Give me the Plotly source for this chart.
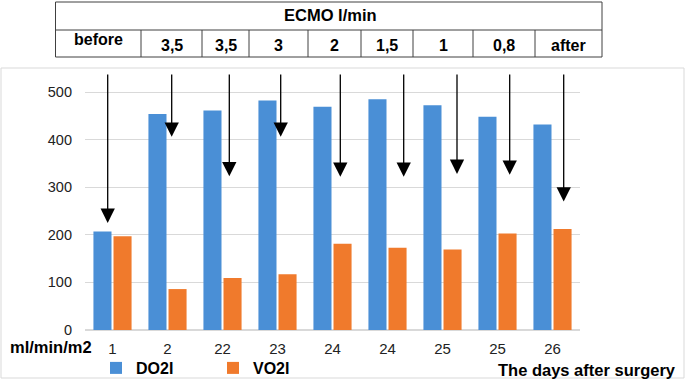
import plotly.graph_objects as go

# ---- data ----
days = ["1", "2", "22", "23", "24", "24", "25", "25", "26"]
ecmo_flow = ["before", "3,5", "3,5", "3", "2", "1,5", "1", "0,8", "after"]
do2i = [207, 454, 461, 482, 469, 485, 472, 448, 432]
vo2i = [197, 86, 109, 117, 181, 173, 169, 203, 212]
arrow_tip = [225, 406, 323, 406, 322, 322, 328, 326, 270]

W, H = 685, 379
PL, PR, PT, PB = 85, 580, 73, 330   # plot area in pixels
YMAX = 540

def px(x):
    return (x - PL) / (PR - PL)

def py(y):
    return (PB - y) / (PB - PT)

FONT = "Liberation Sans Narrow, Liberation Sans, Arial, sans-serif"
xs = list(range(len(days)))

fig = go.Figure()
fig.add_trace(go.Bar(x=xs, y=do2i, name="<b>DO2I</b>", marker=dict(color="#4a8fd6", line=dict(width=0))))
fig.add_trace(go.Bar(x=xs, y=vo2i, name="<b>VO2I</b>", marker=dict(color="#f07a2c", line=dict(width=0))))

shapes = []
# outer light frame of chart area
shapes.append(dict(type="rect", xref="paper", yref="paper", x0=px(1), x1=px(684), y0=py(378), y1=py(68),
                   line=dict(color="#d9d9d9", width=1), layer="below"))
# ECMO table
tx = [55.5, 141, 202, 249, 308, 361, 413, 473, 535, 602]
ttop, tmid, tbot = 2, 30, 57
shapes.append(dict(type="rect", xref="paper", yref="paper", x0=px(tx[0]), x1=px(tx[-1]), y0=py(tbot), y1=py(ttop),
                   line=dict(color="#404040", width=1)))
shapes.append(dict(type="line", xref="paper", yref="paper", x0=px(tx[0]), x1=px(tx[-1]), y0=py(tmid), y1=py(tmid),
                   line=dict(color="#404040", width=1)))
for xv in tx[1:-1]:
    shapes.append(dict(type="line", xref="paper", yref="paper", x0=px(xv), x1=px(xv), y0=py(tbot), y1=py(tmid),
                       line=dict(color="#404040", width=1)))

def label(text, x, y, size=16):
    return dict(text="<b>%s</b>" % text, xref="paper", yref="paper", x=px(x), y=py(y), showarrow=False,
                xanchor="center", yanchor="middle", font=dict(size=size, color="black", family=FONT))

ann = [label("ECMO l/min", 330, 15, 16.5)]
for i, lab in enumerate(ecmo_flow):
    cy = 39 if i == 0 else 46
    ann.append(label(lab, (tx[i] + tx[i + 1]) / 2, cy, 16))
ann.append(label("ml/min/m2", 51, 347, 16.5))
ann.append(label("The days after surgery", 587, 370, 16.5))

# arrows
xoff = [-4.8, 4.2, 6.8, 3.2, 7.8, 16.2, 14.5, 12.2, 11.2]
ppu = (PB - PT) / YMAX
cw = (PR - PL) / len(days)
for i, t in enumerate(arrow_tip):
    tip_py = PB - t * ppu
    ann.append(dict(x=i + xoff[i] / cw, y=t, xref="x", yref="y", text="", showarrow=True,
                    ax=0, ay=-(tip_py - PT), arrowhead=2, arrowsize=2.2, arrowwidth=1.3,
                    arrowcolor="black", standoff=0, startstandoff=0))

fig.update_layout(
    width=W, height=H, autosize=False,
    margin=dict(l=PL, r=W - PR, t=PT, b=H - PB, autoexpand=False),
    paper_bgcolor="white", plot_bgcolor="white",
    barmode="group", bargap=0.27, bargroupgap=0.1,
    font=dict(family="Liberation Sans, Arial, sans-serif", size=14, color="#222"),
    shapes=shapes, annotations=ann,
    showlegend=True,
    legend=dict(orientation="h", xref="container", yref="container",
                x=96 / W, y=1 - 368 / H, xanchor="left", yanchor="middle",
                entrywidth=72, entrywidthmode="pixels", itemwidth=30,
                font=dict(size=16, color="black", family=FONT), itemsizing="constant",
                bgcolor="rgba(0,0,0,0)", tracegroupgap=0),
)
fig.update_xaxes(range=[-0.5, len(days) - 0.5], tickmode="array", tickvals=xs, ticktext=days,
                 showgrid=False, showline=False, ticks="", zeroline=False, automargin=False,
                 ticklabelstandoff=8,
                 tickfont=dict(size=15, color="#222", family=FONT))
fig.update_yaxes(range=[0, YMAX], tickvals=[0, 100, 200, 300, 400, 500], showgrid=True,
                 gridcolor="#d9d9d9", gridwidth=1, zeroline=True, zerolinecolor="#d9d9d9",
                 ticks="", tickfont=dict(size=14.5, color="#222"), ticklabelstandoff=12, automargin=False)

fig.write_html("out.html", config={"displayModeBar": False},
               post_script="document.body.style.margin='0';document.body.style.padding='0';")
